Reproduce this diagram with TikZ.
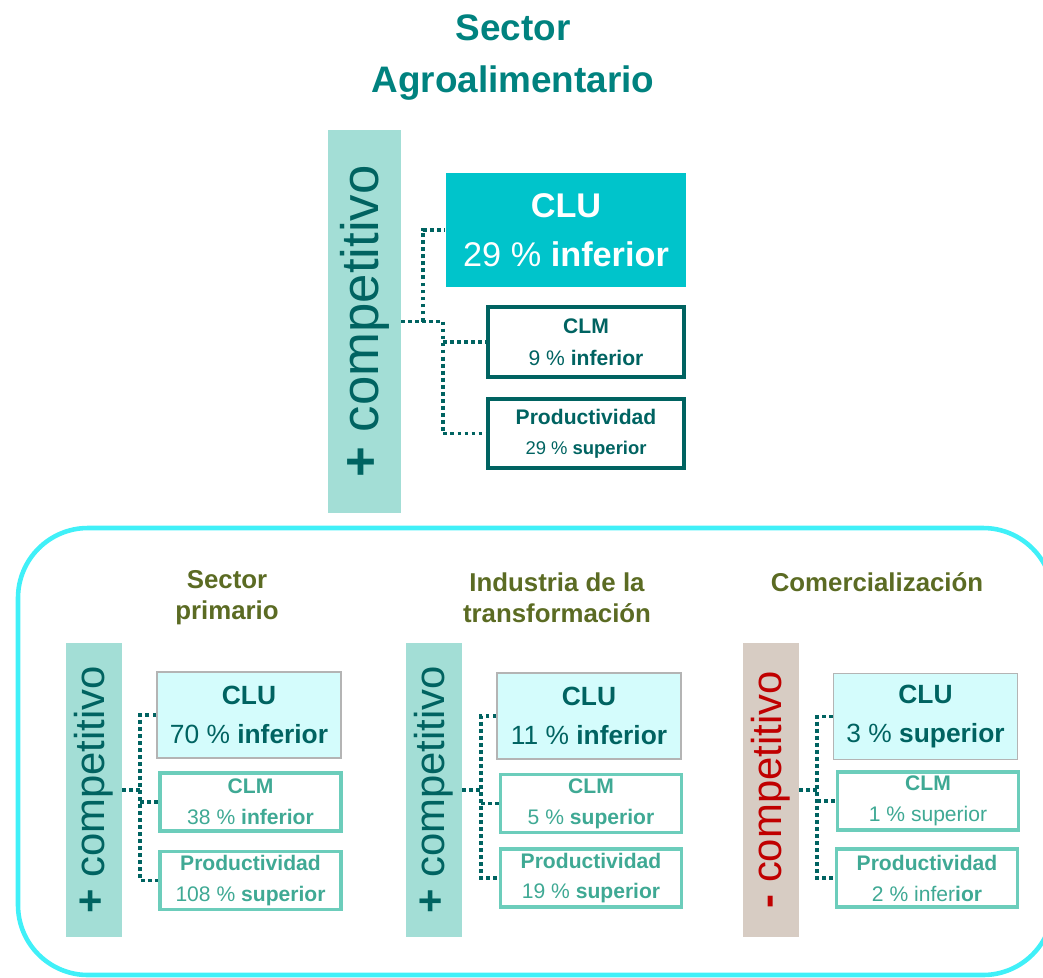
\documentclass[tikz,border=0pt]{standalone}
\usepackage{fontspec}
\setmainfont{Liberation Sans}
\usepackage{tikz}
\usetikzlibrary{calc}
\definecolor{titleteal}{HTML}{00827F}
\definecolor{darkteal}{HTML}{006361}
\definecolor{barteal}{HTML}{A3DED6}
\definecolor{barbeige}{HTML}{D7CCC3}
\definecolor{clutop}{HTML}{00C4CB}
\definecolor{clulight}{HTML}{D4FCFC}
\definecolor{clugray}{HTML}{B4B4B4}
\definecolor{midteal}{HTML}{6CCDBB}
\definecolor{midtext}{HTML}{3FA994}
\definecolor{olive}{HTML}{5B6B23}
\definecolor{frame}{HTML}{40F0F8}
\definecolor{minusred}{HTML}{C00000}
\def\pxu{0.02cm}
\tikzset{
  bar/.style={inner sep=0pt, fill=barteal, text=darkteal},
  link/.style={draw=darkteal, line width=2.2pt, dash pattern=on 2.2pt off 1.8pt},
  topbox/.style={draw=darkteal, line width=2.2pt, inner sep=0pt, text=darkteal, align=center,
    minimum width=196*\pxu},
  clubox/.style={draw=clugray, line width=0.7pt, fill=clulight, inner sep=0pt, text=darkteal,
    align=center, font=\fontsize{15}{22}\selectfont, minimum width=184*\pxu, minimum height=86*\pxu},
  subbox/.style={draw=midteal, line width=2.2pt, inner sep=0pt, text=midtext, align=center,
    font=\fontsize{12}{17.6}\selectfont, minimum width=181*\pxu, minimum height=58*\pxu},
  head/.style={text=olive, align=center, font=\fontsize{14.7}{17.6}\selectfont\bfseries},
}
\begin{document}
\begin{tikzpicture}[x=0.02cm, y=-0.02cm]
  \useasboundingbox (0,0) rectangle (1043,977);

  % title and overall sector
  \node[text=titleteal, align=center, font=\fontsize{21}{30}\selectfont\bfseries] (title) at (513,57.5)
    {Sector\\Agroalimentario};
  \node[bar, minimum width=73*\pxu, minimum height=383*\pxu, font=\fontsize{30}{30}\selectfont] (tbar) at (364.5,321.5)
    {\rotatebox{90}{\textbf{+} competitivo}};
  \node[topbox, fill=clutop, draw=none, text=white, minimum width=240*\pxu, minimum height=114*\pxu,
    font=\fontsize{19.5}{27.8}\selectfont] (tclu) at (566,230) {\textbf{CLU}\\29 \% \textbf{inferior}};
  \node[topbox, minimum height=70*\pxu, font=\fontsize{12}{18}\selectfont] (tclm) at (586,342)
    {\textbf{CLM}\\9 \% \textbf{inferior}};
  \node[topbox, minimum height=69*\pxu, font=\fontsize{12}{17}\selectfont] (tprod) at (586,433.5)
    {\textbf{Productividad}\\{\fontsize{10.5}{17}\selectfont 29 \% \textbf{superior}}};

  \coordinate (ta) at (423,321.5);
  \coordinate (tb) at (443,321.5);
  \draw[link] (tbar.east) -- (tb);
  \draw[link] (ta) |- (tclu.west);
  \draw[link] (tb) |- (tprod.west);
  \draw[link] (tb |- tclm.west) -- (tclm.west);

  % frame around the three subsectors
  \draw[draw=frame, line width=2.6pt, rounded corners=1.4cm] (18,528) rectangle (1053,975);

  % sector primario
  \node[head] (phead) at (227,597.5) {Sector\\primario};
  \node[bar, minimum width=56*\pxu, minimum height=294*\pxu, font=\fontsize{23.8}{24}\selectfont] (pbar) at (94,790)
    {\rotatebox{90}{\textbf{+} competitivo}};
  \node[clubox] (pclu) at (249,715) {\textbf{CLU}\\70 \% \textbf{inferior}};
  \node[subbox] (pclm) at (250.5,802) {\textbf{CLM}\\38 \% \textbf{inferior}};
  \node[subbox] (pprod) at (250.5,880.5) {\textbf{Productividad}\\108 \% \textbf{superior}};
  \coordinate (pa) at (140,790);
  \draw[link] (pbar.east) -- (pa);
  \draw[link] (pclu.west) -| (pa) |- (pprod.west);
  \draw[link] (pa |- pclm.west) -- (pclm.west);

  % industria de la transformacion
  \node[head] (ihead) at (557,598) {Industria de la\\transformación};
  \node[bar, minimum width=56*\pxu, minimum height=294*\pxu, font=\fontsize{23.8}{24}\selectfont] (ibar) at (434,790)
    {\rotatebox{90}{\textbf{+} competitivo}};
  \node[clubox] (iclu) at (589,716) {\textbf{CLU}\\11 \% \textbf{inferior}};
  \node[subbox] (iclm) at (591,803.5) {\textbf{CLM}\\5 \% \textbf{superior}};
  \node[subbox] (iprod) at (591,878) {\textbf{Productividad}\\19 \% \textbf{superior}};
  \coordinate (ia) at (481,790);
  \draw[link] (ibar.east) -- (ia);
  \draw[link] (iclu.west) -| (ia) |- (iprod.west);
  \draw[link] (ia |- iclm.west) -- (iclm.west);

  % comercializacion
  \node[head] (chead) at (877,582) {Comercialización};
  \node[bar, fill=barbeige, text=minusred, minimum width=56*\pxu, minimum height=294*\pxu,
    font=\fontsize{23.8}{24}\selectfont] (cbar) at (771,790)
    {\rotatebox{90}{\textbf{-} competitivo}};
  \node[clubox] (cclu) at (925.5,716.5) {\textbf{CLU}\\3 \% \textbf{superior}};
  \node[subbox] (cclm) at (928,801) {\textbf{CLM}\\1 \% superior};
  \node[subbox] (cprod) at (927,878) {\textbf{Productividad}\\2 \% infer\textbf{ior}};
  \coordinate (ca) at (817,790);
  \draw[link] (cbar.east) -- (ca);
  \draw[link] (cclu.west) -| (ca) |- (cprod.west);
  \draw[link] (ca |- cclm.west) -- (cclm.west);
\end{tikzpicture}
\end{document}
